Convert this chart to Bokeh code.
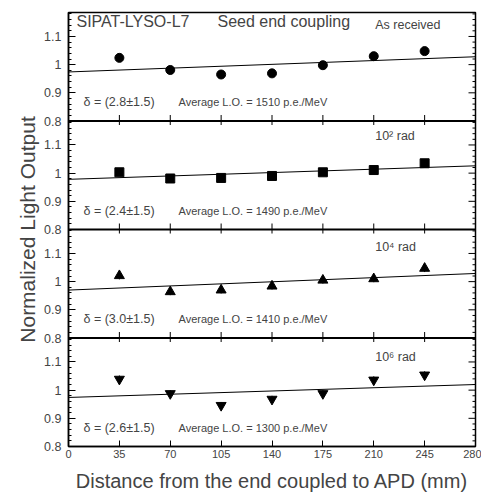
from bokeh.plotting import figure
from bokeh.models import Range1d, FixedTicker, Label, Span
from bokeh.embed import file_html
from bokeh.resources import INLINE

# ---------------- data ----------------
distance = [35, 70, 105, 140, 175, 210, 245]

lo_as_received = [1.024, 0.981, 0.965, 0.969, 0.998, 1.030, 1.048]
lo_1e2 = [1.003, 0.981, 0.983, 0.990, 1.003, 1.011, 1.035]
lo_1e4 = [1.021, 0.964, 0.970, 0.984, 1.005, 1.010, 1.047]
lo_1e6 = [1.039, 0.988, 0.946, 0.968, 0.988, 1.036, 1.054]

err_as_received = [0.014, 0.012, 0.012, 0.012, 0.012, 0.013, 0.014]
err_1e2 = [0.012, 0.012, 0.012, 0.012, 0.012, 0.012, 0.013]
err_1e4 = [0.013, 0.012, 0.012, 0.012, 0.012, 0.012, 0.013]
err_1e6 = [0.013, 0.012, 0.012, 0.012, 0.012, 0.013, 0.013]

fit_x = [0, 280]
fit_as_received = [0.974, 1.028]
fit_1e2 = [0.978, 1.026]
fit_1e4 = [0.970, 1.029]
fit_1e6 = [0.974, 1.020]

dose_labels = ["As received", "10\u00b2 rad", "10\u2074 rad", "10\u2076 rad"]
delta_labels = ["\u03b4 = (2.8\u00b11.5)", "\u03b4 = (2.4\u00b11.5)",
                "\u03b4 = (3.0\u00b11.5)", "\u03b4 = (2.6\u00b11.5)"]
avg_lo = [1510, 1490, 1410, 1300]
markers = ["circle", "square", "triangle", "inverted_triangle"]

x_ticks = [0, 35, 70, 105, 140, 175, 210, 245, 280]
y_ticks = [0.8, 0.9, 1.0, 1.1]
y_tick_labels = ["0.8", "0.9", "1", "1.1"]

series = [lo_as_received, lo_1e2, lo_1e4, lo_1e6]
errors = [err_as_received, err_1e2, err_1e4, err_1e6]
fits = [fit_as_received, fit_1e2, fit_1e4, fit_1e6]

# ---------------- layout constants ----------------
FONT = "Liberation Sans"
Y0, H = 0.8, 0.385          # panel value range 0.8 .. 1.185
NP = 4
minor_step = 0.02
marker_sizes = [9, 9, 10, 10]
dose_y = [1.141, 1.132, 1.123, 1.118]
FRAME_W, FRAME_H = 407, 434

p = figure(width=481, height=496, output_backend="svg", toolbar_location=None,
           x_range=Range1d(0, 280), y_range=Range1d(Y0, Y0 + NP * H),
           min_border_left=68, min_border_right=6, min_border_top=12,
           min_border_bottom=50)
p.xgrid.visible = False
p.ygrid.visible = False
p.outline_line_color = "black"
p.outline_line_width = 1.5
p.background_fill_color = "white"
p.border_fill_color = "white"

# y ticks for all panels (expressed in the bottom-panel coordinate system)
major_pos, overrides, minor_pos = [], {}, []
for k in range(NP):
    off = (NP - 1 - k) * H
    for v, lab in zip(y_ticks, y_tick_labels):
        pos = round(v + off, 6)
        major_pos.append(pos)
        overrides[pos] = lab
    i = 1
    while Y0 + i * minor_step < Y0 + H - 1e-6:
        m = round(Y0 + i * minor_step, 6)
        if all(abs(m - t) > 1e-6 for t in y_ticks):
            minor_pos.append(round(m + off, 6))
        i += 1

yticker = FixedTicker(ticks=major_pos, minor_ticks=minor_pos)
yax = p.yaxis[0]
yax.ticker = yticker
yax.major_label_overrides = overrides
yax.major_tick_in = 7
yax.major_tick_out = 0
yax.minor_tick_in = 3
yax.minor_tick_out = 0
yax.major_label_standoff = 7
yax.major_label_text_font = FONT
yax.major_label_text_font_size = "12.5px"
yax.axis_line_width = 1.5
yax.axis_label = "Normalized Light Output"
yax.axis_label_text_font = FONT
yax.axis_label_text_font_size = "21px"
yax.axis_label_text_font_style = "normal"
yax.axis_label_standoff = 2

xax = p.xaxis[0]
xax.ticker = FixedTicker(ticks=x_ticks, minor_ticks=[])
xax.major_tick_in = 6
xax.major_tick_out = 0
xax.major_label_standoff = 3
xax.major_label_text_font = FONT
xax.major_label_text_font_size = "11px"
xax.axis_line_width = 1.5
xax.axis_label = "Distance from the end coupled to APD (mm)"
xax.axis_label_text_font = FONT
xax.axis_label_text_font_size = "20px"
xax.axis_label_text_font_style = "normal"
xax.axis_label_standoff = 9

# mirrored tick marks on the right edge of the frame
x_per_px = 280 / FRAME_W
xr = 280
p.segment(x0=[xr - 7 * x_per_px] * len(major_pos), x1=[xr] * len(major_pos),
          y0=major_pos, y1=major_pos, line_color="black", line_width=1)
p.segment(x0=[xr - 3 * x_per_px] * len(minor_pos), x1=[xr] * len(minor_pos),
          y0=minor_pos, y1=minor_pos, line_color="black", line_width=1)

# panel separators and their tick marks
inner_ticks = x_ticks[1:-1]
y_per_px = NP * H / FRAME_H
for j in range(1, NP):
    b = Y0 + j * H
    p.add_layout(Span(location=b, dimension="width", line_color="black", line_width=2))
    p.segment(x0=inner_ticks, x1=inner_ticks, y0=[b - 4 * y_per_px] * len(inner_ticks),
              y1=[b + 6 * y_per_px] * len(inner_ticks), line_color="black", line_width=1)

# panels
for k in range(NP):
    name = f"p{k}"
    start = Y0 - (NP - 1 - k) * H
    p.extra_y_ranges[name] = Range1d(start, start + NP * H)
    ys = series[k]
    es = errors[k]
    p.segment(x0=distance, x1=distance, y0=[y - e for y, e in zip(ys, es)],
              y1=[y + e for y, e in zip(ys, es)], line_color="black", line_width=1,
              y_range_name=name)
    p.scatter(distance, ys, marker=markers[k], size=marker_sizes[k], color="black",
              y_range_name=name)
    p.line(fit_x, fits[k], line_color="black", line_width=1, y_range_name=name)

    p.add_layout(Label(x=211, y=dose_y[k], y_range_name=name, text=dose_labels[k],
                       text_font=FONT, text_font_size="12.5px", text_baseline="middle"))
    p.add_layout(Label(x=10.3, y=0.866, y_range_name=name, text=delta_labels[k],
                       text_font=FONT, text_font_size="12.5px", text_baseline="middle"))
    p.add_layout(Label(x=75.7, y=0.866, y_range_name=name,
                       text=f"Average L.O. = {avg_lo[k]} p.e./MeV",
                       text_font=FONT, text_font_size="11px", text_baseline="middle"))

p.add_layout(Label(x=5.5, y=1.152, y_range_name="p0", text="SIPAT-LYSO-L7",
                   text_font=FONT, text_font_size="16px", text_baseline="middle"))
p.add_layout(Label(x=102.5, y=1.152, y_range_name="p0", text="Seed end coupling",
                   text_font=FONT, text_font_size="16px", text_baseline="middle"))

open("out.html", "w").write(file_html(p, INLINE))
